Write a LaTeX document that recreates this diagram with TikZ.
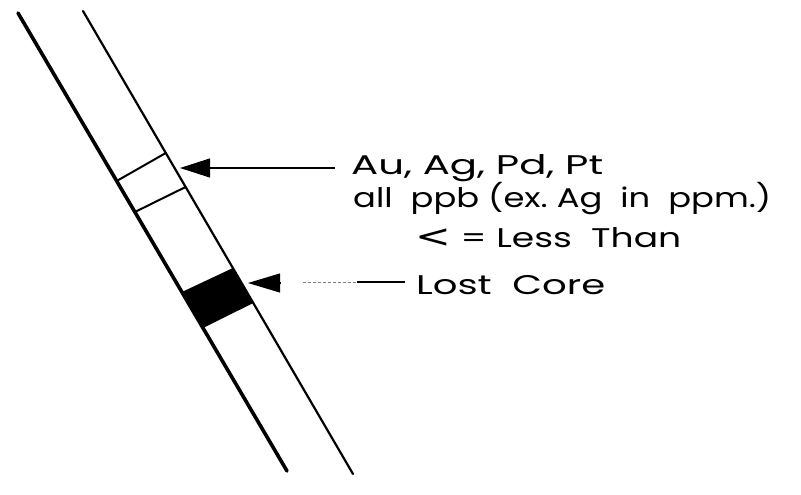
\documentclass[tikz,border=0pt]{standalone}
\usepackage{graphicx}
\usepackage{fontspec}
\setmainfont{Poppins}
\newfontfamily\symfont{DejaVu Sans}
\usetikzlibrary{arrows.meta,calc}
\begin{document}
\begin{tikzpicture}[x=1pt,y=-1pt,
  thickline/.style={line width=3.6pt, line cap=round},
  thinline/.style={line width=2.2pt, line cap=round},
  band/.style={line width=2pt},
  leader/.style={line width=1.1pt},
  faint/.style={line width=1pt, densely dashed, black!50},
  lbl/.style={anchor=base west, inner sep=0pt, font=\fontsize{27}{30}\selectfont},
  tipA/.style={-{Triangle[length=30pt,width=19pt]}},
  tipB/.style={-{Triangle[length=32pt,width=19pt]}}]
\useasboundingbox[fill=white] (0,0) rectangle (801,495);
% core walls
\coordinate (L1) at (18,13); \coordinate (L2) at (287,471);
\coordinate (R1) at (83,11); \coordinate (R2) at (353,474);
\draw[thickline] (L1) -- (L2);
\draw[thinline] (R1) -- (R2);
% sample interval
\draw[band] ($(L1)!0.3668!(L2)$) -- ($(R1)!0.3067!(R2)$);
\draw[band] ($(L1)!0.4345!(L2)$) -- ($(R1)!0.3801!(R2)$);
% lost core
\fill ($(L1)!0.6092!(L2)$) -- ($(R1)!0.5551!(R2)$) -- ($(R1)!0.6307!(R2)$) -- ($(L1)!0.6878!(L2)$) -- cycle;
% labels
\node[lbl] (t1) at (351,174) {\resizebox{252pt}{\height}{Au, Ag, Pd, Pt}};
\node[lbl] (t2) at (353,207) {\resizebox{418pt}{\height}{all\ \ ppb\ (ex.\ Ag\ \ in\ \ ppm.)}};
\node[lbl] (t3) at (415,247) {\resizebox{266pt}{\height}{{\symfont\fontsize{32}{34}\selectfont <} = Less\ \ Than}};
\node[lbl] (t4) at (416,294) {\resizebox{189pt}{\height}{Lost\ \ Core}};
% leaders
\coordinate (a1) at (180,168); \coordinate (a1e) at (335,168);
\draw[leader, tipA] (a1e) -- (a1);
\coordinate (a2) at (248,283); \coordinate (a2b) at (281,283);
\draw[leader, tipB] (a2b) -- (a2);
\coordinate (d1) at (303,282); \coordinate (d2) at (357,282); \coordinate (a2e) at (405,282);
\draw[faint] (d1) -- (d2);
\draw[leader] (d2) -- (a2e);
\end{tikzpicture}
\end{document}
